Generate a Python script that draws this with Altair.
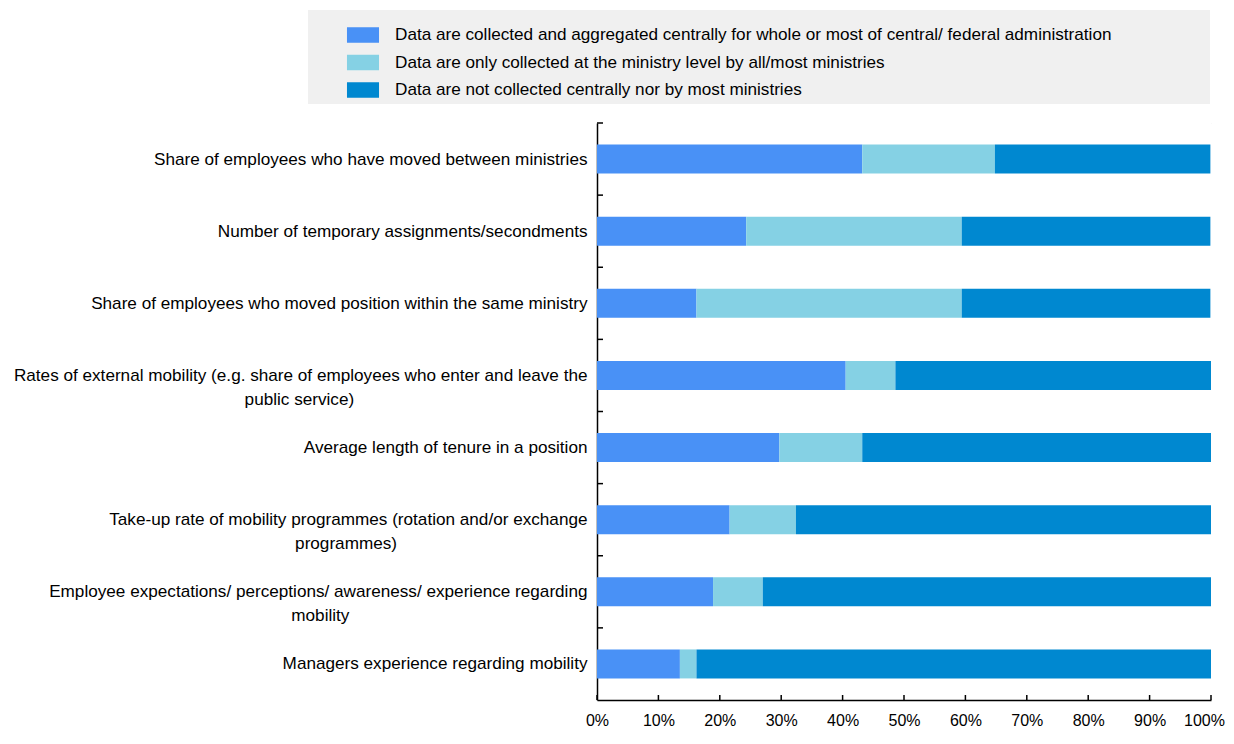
import altair as alt
import pandas as pd

categories = [
    "Share of employees who have moved between ministries",
    "Number of temporary assignments/secondments",
    "Share of employees who moved position within the same ministry",
    "Rates of external mobility (e.g. share of employees who enter and leave the\npublic service)",
    "Average length of tenure in a position",
    "Take-up rate of mobility programmes (rotation and/or exchange\nprogrammes)",
    "Employee expectations/ perceptions/ awareness/ experience regarding\nmobility",
    "Managers experience regarding mobility",
]
series_names = [
    "Data are collected and aggregated centrally for whole or most of central/ federal administration",
    "Data are only collected at the ministry level by all/most ministries",
    "Data are not collected centrally nor by most ministries",
]
central = [43.2, 24.3, 16.2, 40.5, 29.7, 21.6, 18.9, 13.5]
ministry = [21.6, 35.1, 43.2, 8.1, 13.5, 10.8, 8.1, 2.7]
not_collected = [35.1, 40.5, 40.5, 51.4, 56.8, 67.6, 73.0, 83.8]
colors = ["#4991F6", "#85D1E4", "#0088D0"]
x_ticks = [0, 10, 20, 30, 40, 50, 60, 70, 80, 90, 100]

# approximate Arial/Liberation Sans advance widths (per 1000 em) to centre wrapped lines
_W = {" ": 278, "(": 333, ")": 333, ".": 278, "/": 278, "-": 333, "a": 556, "b": 556,
      "c": 500, "d": 556, "e": 556, "f": 278, "g": 556, "h": 556, "i": 222, "j": 222,
      "k": 500, "l": 222, "m": 833, "n": 556, "o": 556, "p": 556, "q": 556, "r": 333,
      "s": 500, "t": 278, "u": 556, "v": 500, "w": 722, "x": 500, "y": 500, "z": 500,
      "R": 722, "T": 611, "E": 667, "M": 833, "A": 667, "N": 722, "S": 667}


def _width(s):
    return sum(_W.get(ch, 556) for ch in s)


def centre_lines(label):
    lines = label.split("\n")
    if len(lines) == 1:
        return label
    w0 = max(_width(l) for l in lines)
    out = []
    for l in lines:
        pad = int(round((w0 - _width(l)) / 2 / 278))
        # trailing no-break spaces, closed by a zero-width space so they are not trimmed
        out.append(l + "\u00a0" * pad + ("\u200b" if pad else ""))
    return "\n".join(out)


labels = [centre_lines(c) for c in categories]

rows = []
for i, lab in enumerate(labels):
    for k, vals in enumerate([central, ministry, not_collected]):
        rows.append({"cat": lab, "series": series_names[k], "order": k, "value": vals[i]})
df = pd.DataFrame(rows)

FONT = "Liberation Sans"
FS = 17.15
W, H = 614, 577

bars = alt.Chart(df).mark_bar(size=29).encode(
    x=alt.X("value:Q", stack="zero",
            scale=alt.Scale(domain=[0, 100], nice=False),
            axis=alt.Axis(values=x_ticks, labelExpr="datum.value + '%'", title=None,
                          grid=True, gridColor="white", gridWidth=2,
                          domainColor="black", domainWidth=1.5,
                          ticks=False, tickSize=0, labelPadding=12,
                          labelFlush=False, labelFont=FONT, labelFontSize=16,
                          labelColor="black",
                          labelOffset={"condition": {"test": "datum.value == 100", "value": -7},
                                       "value": 0})),
    y=alt.Y("cat:N", sort=labels, title=None,
            scale=alt.Scale(paddingInner=0, paddingOuter=0),
            axis=alt.Axis(tickBand="extent", grid=True, gridColor="white", gridWidth=2,
                          domainColor="black", domainWidth=1.5,
                          ticks=False, tickSize=0,
                          labelPadding=10, labelFont=FONT, labelFontSize=FS,
                          labelColor="black", labelLimit=700, labelLineHeight=24,
                          labelExpr="split(datum.label, '\\n')")),
    color=alt.Color("series:N", sort=series_names,
                    scale=alt.Scale(domain=series_names, range=colors),
                    legend=alt.Legend(title=None, orient="none", legendX=-243, legendY=-97,
                                      symbolType="M-1.78,-0.86H1.78V0.86H-1.78Z", symbolSize=324,
                                      symbolStrokeWidth=0, symbolOpacity=1,
                                      labelOffset=23, rowPadding=9.5, padding=0,
                                      labelFont=FONT, labelFontSize=FS, labelColor="black",
                                      labelLimit=900, zindex=2)),
    order=alt.Order("order:Q"),
)

tick_df = pd.DataFrame({"t": x_ticks})
x_inner_ticks = alt.Chart(tick_df).mark_rule(color="black", strokeWidth=1.5).encode(
    x=alt.X("t:Q"), y=alt.value(H), y2=alt.value(H - 5)
)

cat_df = pd.DataFrame({"cat": labels})
y_inner_ticks = alt.Chart(cat_df).mark_rule(color="black", strokeWidth=1.5).encode(
    y=alt.Y("cat:N", sort=labels, bandPosition=0),
    x=alt.value(0), x2=alt.value(6)
)

legend_bg = alt.Chart(alt.Data(values=[{}])).mark_rect(color="#F0F0F0").encode(
    x=alt.value(-289), x2=alt.value(613), y=alt.value(-113), y2=alt.value(-19)
)

chart = alt.layer(legend_bg, bars, x_inner_ticks, y_inner_ticks).properties(
    width=W, height=H,
    autosize=alt.AutoSizeParams(type="none"),
    padding={"left": 589, "top": 115, "right": 15, "bottom": 28},
).configure_view(fill="#F0F0F0", stroke=None).configure(background="white")

chart.save("out.html", embed_options={"renderer": "svg", "actions": False})
